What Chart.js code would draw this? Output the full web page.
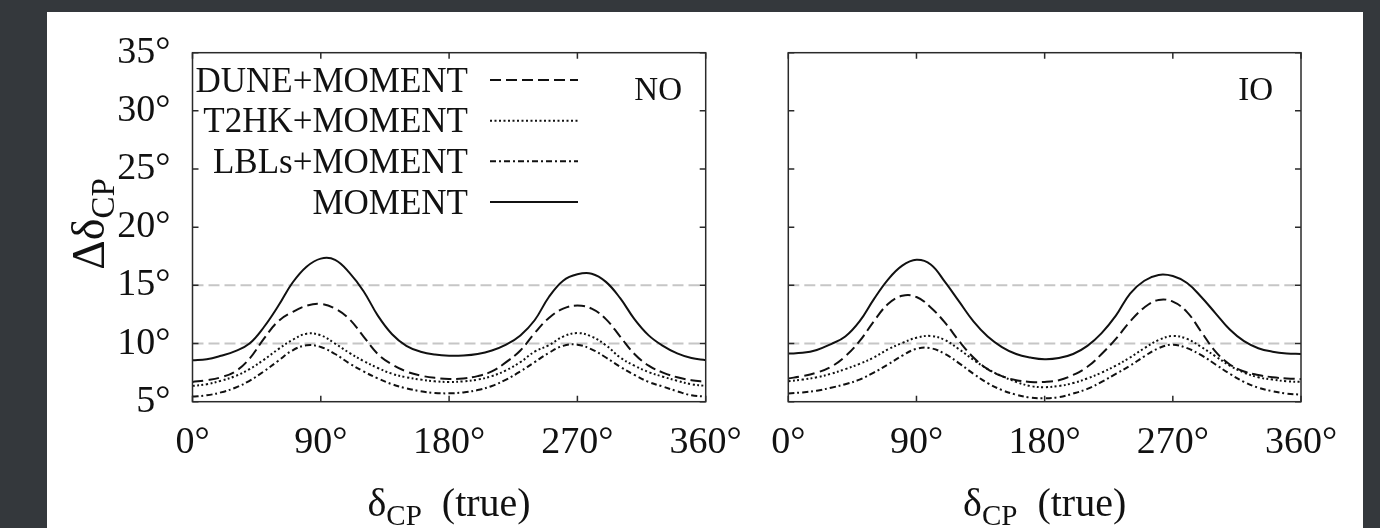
<!DOCTYPE html>
<html>
<head>
<meta charset="utf-8">
<script src="https://cdn.jsdelivr.net/npm/chart.js@4.4.1/dist/chart.umd.min.js"></script>
<style>
  html, body { margin: 0; padding: 0; background: #34383c; }
  body { width: 1380px; height: 528px; position: relative; overflow: hidden; }
  #panel { position: absolute; left: 47px; top: 12px; width: 1316px; height: 516px; background: #fff; }
  canvas { position: absolute; top: 0; }
  #chartNO { left: 0; }
  #chartIO { left: 700px; }
</style>
</head>
<body>
<div id="panel">
  <canvas id="chartNO" width="700" height="516"></canvas>
  <canvas id="chartIO" width="616" height="516"></canvas>
</div>
<script>
// delta_CP (true) in degrees
const deltaTrue = [0, 10, 20, 30, 40, 50, 60, 70, 80, 90, 100, 110, 120, 130, 140, 150, 160, 170, 180,
                   190, 200, 210, 220, 230, 240, 250, 260, 270, 280, 290, 300, 310, 320, 330, 340, 350, 360];

// NO
const noDune   = [6.7, 6.85, 7.1, 7.6, 8.7, 10.4, 11.9, 12.7, 13.25, 13.4, 13.0, 12.1, 10.6, 9.1, 8.2, 7.6, 7.25, 7.05, 6.96,
                  7.0, 7.2, 7.6, 8.4, 9.4, 10.9, 12.2, 13.0, 13.26, 13.0, 12.1, 10.6, 9.1, 8.1, 7.5, 7.1, 6.85, 6.7];
const noT2hk   = [6.36, 6.5, 6.8, 7.2, 7.8, 8.6, 9.5, 10.3, 10.85, 10.7, 10.0, 9.2, 8.5, 7.9, 7.4, 7.1, 6.9, 6.75, 6.7,
                  6.75, 6.9, 7.2, 7.7, 8.4, 9.3, 9.85, 10.6, 10.9, 10.6, 9.85, 8.8, 8.1, 7.55, 7.15, 6.8, 6.5, 6.36];
const noLbls   = [5.44, 5.55, 5.8, 6.2, 6.8, 7.6, 8.5, 9.4, 9.85, 9.7, 9.1, 8.3, 7.6, 7.0, 6.5, 6.15, 5.9, 5.75, 5.72,
                  5.8, 6.0, 6.35, 6.9, 7.6, 8.4, 9.2, 9.8, 9.9, 9.5, 8.8, 8.0, 7.3, 6.7, 6.3, 5.9, 5.55, 5.44];
const noMoment = [8.56, 8.65, 8.95, 9.35, 10.0, 11.4, 13.2, 15.2, 16.6, 17.3, 17.2, 16.1, 14.5, 12.4, 10.8, 9.8, 9.3, 9.05, 8.95,
                  8.97, 9.1, 9.4, 9.9, 10.7, 12.0, 14.0, 15.4, 15.95, 16.0, 15.3, 13.9, 12.1, 10.7, 9.8, 9.15, 8.75, 8.56];

// IO
const ioDune   = [7.0, 7.2, 7.5, 8.0, 8.9, 10.2, 11.9, 13.4, 14.1, 14.0, 13.1, 11.8, 10.2, 8.8, 7.8, 7.2, 6.85, 6.7, 6.7,
                  6.85, 7.3, 8.0, 9.1, 10.4, 11.9, 13.1, 13.75, 13.6, 12.7, 11.0, 9.3, 8.2, 7.6, 7.3, 7.1, 7.0, 6.95];
const ioT2hk   = [6.76, 6.9, 7.1, 7.4, 7.8, 8.25, 8.8, 9.5, 10.05, 10.5, 10.65, 10.3, 9.5, 8.6, 7.8, 7.2, 6.7, 6.35, 6.25,
                  6.35, 6.6, 7.0, 7.5, 8.1, 8.8, 9.6, 10.3, 10.65, 10.4, 9.7, 8.9, 8.1, 7.5, 7.1, 6.9, 6.75, 6.7];
const ioLbls   = [5.71, 5.8, 5.95, 6.2, 6.5, 6.9, 7.5, 8.2, 8.95, 9.55, 9.6, 9.1, 8.3, 7.4, 6.6, 6.0, 5.6, 5.35, 5.3,
                  5.4, 5.7, 6.1, 6.7, 7.4, 8.1, 8.9, 9.6, 9.9, 9.6, 9.0, 8.2, 7.4, 6.7, 6.2, 5.9, 5.7, 5.6];
const ioMoment = [9.14, 9.2, 9.45, 9.95, 10.6, 11.9, 13.8, 15.5, 16.7, 17.2, 16.8, 15.3, 13.6, 11.9, 10.6, 9.7, 9.1, 8.8, 8.65,
                  8.75, 9.1, 9.8, 10.9, 12.4, 14.3, 15.4, 15.9, 15.8, 15.2, 14.0, 12.6, 11.2, 10.2, 9.6, 9.3, 9.15, 9.1];

const seriesNames = ['DUNE+MOMENT', 'T2HK+MOMENT', 'LBLs+MOMENT', 'MOMENT'];
const seriesDash  = [[11, 5], [2, 2.5], [6, 3, 2, 3], []];
const refLevels   = [10, 15];
const xTicks      = [0, 90, 180, 270, 360];
const yTicks      = [5, 10, 15, 20, 25, 30, 35];

const SERIF = '"Liberation Serif", "DejaVu Serif", serif';

function pts(arr) {
  return deltaTrue.map((x, i) => ({ x: x, y: arr[i] }));
}

function makeDatasets(values) {
  const ds = values.map((v, i) => ({
    label: seriesNames[i],
    data: pts(v),
    borderColor: '#111',
    borderWidth: 2,
    borderDash: seriesDash[i],
    pointRadius: 0,
    tension: 0.4,
    fill: false
  }));
  // grey reference lines, put last so they are drawn underneath
  refLevels.forEach(lvl => {
    ds.push({
      label: 'ref',
      data: [{ x: 0, y: lvl }, { x: 360, y: lvl }],
      borderColor: '#c6c6c6',
      borderWidth: 2,
      borderDash: [11, 5],
      pointRadius: 0,
      tension: 0
    });
  });
  return ds;
}

// frame + inward ticks on all four sides
const framePlugin = {
  id: 'frame',
  afterDraw(chart) {
    const { ctx, chartArea: a, scales } = chart;
    ctx.save();
    ctx.strokeStyle = '#2a2a2a';
    ctx.lineWidth = 1.5;
    ctx.setLineDash([]);
    ctx.strokeRect(a.left, a.top, a.right - a.left, a.bottom - a.top);
    const tl = 6;
    ctx.beginPath();
    xTicks.forEach(v => {
      const px = scales.x.getPixelForValue(v);
      ctx.moveTo(px, a.bottom); ctx.lineTo(px, a.bottom - tl);
      ctx.moveTo(px, a.top); ctx.lineTo(px, a.top + tl);
    });
    yTicks.forEach(v => {
      const py = scales.y.getPixelForValue(v);
      ctx.moveTo(a.left, py); ctx.lineTo(a.left + tl, py);
      ctx.moveTo(a.right, py); ctx.lineTo(a.right - tl, py);
    });
    ctx.stroke();
    ctx.restore();
  }
};

// text with a subscript, e.g. delta_CP
function drawSub(ctx, main, sub, rest, x, y, size, align) {
  const big = size + 'px ' + SERIF;
  const small = Math.round(size * 0.72) + 'px ' + SERIF;
  ctx.font = big; const w1 = ctx.measureText(main).width;
  ctx.font = small; const w2 = ctx.measureText(sub).width;
  ctx.font = big; const w3 = rest ? ctx.measureText(rest).width : 0;
  const total = w1 + w2 + w3;
  let sx = align === 'center' ? x - total / 2 : x;
  ctx.textAlign = 'left';
  ctx.textBaseline = 'alphabetic';
  ctx.font = big; ctx.fillText(main, sx, y);
  ctx.font = small; ctx.fillText(sub, sx + w1, y + size * 0.22);
  if (rest) { ctx.font = big; ctx.fillText(rest, sx + w1 + w2, y); }
}

const labelsPlugin = {
  id: 'labels',
  afterDraw(chart, args, opts) {
    const { ctx, chartArea: a } = chart;
    ctx.save();
    ctx.fillStyle = '#111';
    // x title
    drawSub(ctx, '\u03b4', 'CP', '\u2002(true)', (a.left + a.right) / 2, 504, 40, 'center');
    // tag NO / IO
    ctx.font = '33px ' + SERIF;
    ctx.textAlign = 'right';
    ctx.textBaseline = 'alphabetic';
    ctx.fillText(opts.tag, opts.tagRight, 88);
    // y title
    if (opts.yTitle) {
      ctx.translate(57, 212);
      ctx.rotate(-Math.PI / 2);
      drawSub(ctx, '\u0394\u03b4', 'CP', '', 0, 0, 46, 'center');
    }
    ctx.restore();
  }
};

const legendPlugin = {
  id: 'curveLegend',
  afterDraw(chart, args, opts) {
    if (!opts.show) return;
    const { ctx } = chart;
    ctx.save();
    const rowY = [68, 108.7, 149.3, 190];
    chart.data.datasets.filter(d => d.label !== 'ref').forEach((d, i) => {
      ctx.font = '35px ' + SERIF;
      ctx.fillStyle = '#111';
      ctx.textAlign = 'right';
      ctx.textBaseline = 'alphabetic';
      ctx.fillText(d.label, 421, rowY[i] + 11.5);
      ctx.beginPath();
      ctx.setLineDash(d.borderDash);
      ctx.strokeStyle = d.borderColor;
      ctx.lineWidth = 2;
      ctx.moveTo(443, rowY[i]);
      ctx.lineTo(531, rowY[i]);
      ctx.stroke();
    });
    ctx.restore();
  }
};

function noScalePadding(s) {
  s.paddingLeft = 0; s.paddingRight = 0; s.paddingTop = 0; s.paddingBottom = 0;
}

function makeChart(id, values, cfg) {
  return new Chart(document.getElementById(id), {
    type: 'line',
    data: { datasets: makeDatasets(values) },
    options: {
      responsive: false,
      animation: false,
      layout: { padding: { top: 40.7, right: cfg.padRight, left: 0, bottom: 0 } },
      scales: {
        x: {
          type: 'linear',
          min: 0, max: 360,
          afterBuildTicks: s => { s.ticks = xTicks.map(v => ({ value: v })); },
          afterFit: s => { s.height = 126.3; noScalePadding(s); },
          grid: { display: false, drawTicks: false },
          border: { display: false },
          ticks: {
            padding: 19,
            color: '#111',
            font: { family: SERIF, size: 38 },
            callback: v => v + '\u00b0'
          }
        },
        y: {
          type: 'linear',
          min: 5, max: 35,
          afterBuildTicks: s => { s.ticks = yTicks.map(v => ({ value: v })); },
          afterFit: s => { s.width = cfg.yWidth; noScalePadding(s); },
          grid: { display: false, drawTicks: false },
          border: { display: false },
          ticks: {
            display: cfg.yLabels,
            padding: 22,
            color: '#111',
            font: { family: SERIF, size: 38 },
            callback: v => v + '\u00b0'
          }
        }
      },
      plugins: {
        legend: { display: false },
        tooltip: { enabled: false },
        labels: { tag: cfg.tag, tagRight: cfg.tagRight, yTitle: cfg.yLabels },
        curveLegend: { show: cfg.legend }
      }
    },
    plugins: [framePlugin, labelsPlugin, legendPlugin]
  });
}

makeChart('chartNO', [noDune, noT2hk, noLbls, noMoment],
  { padRight: 41.3, yWidth: 145.5, yLabels: true, tag: 'NO', tagRight: 635, legend: true });
makeChart('chartIO', [ioDune, ioT2hk, ioLbls, ioMoment],
  { padRight: 62, yWidth: 41.3, yLabels: false, tag: 'IO', tagRight: 526, legend: false });
</script>
</body>
</html>
